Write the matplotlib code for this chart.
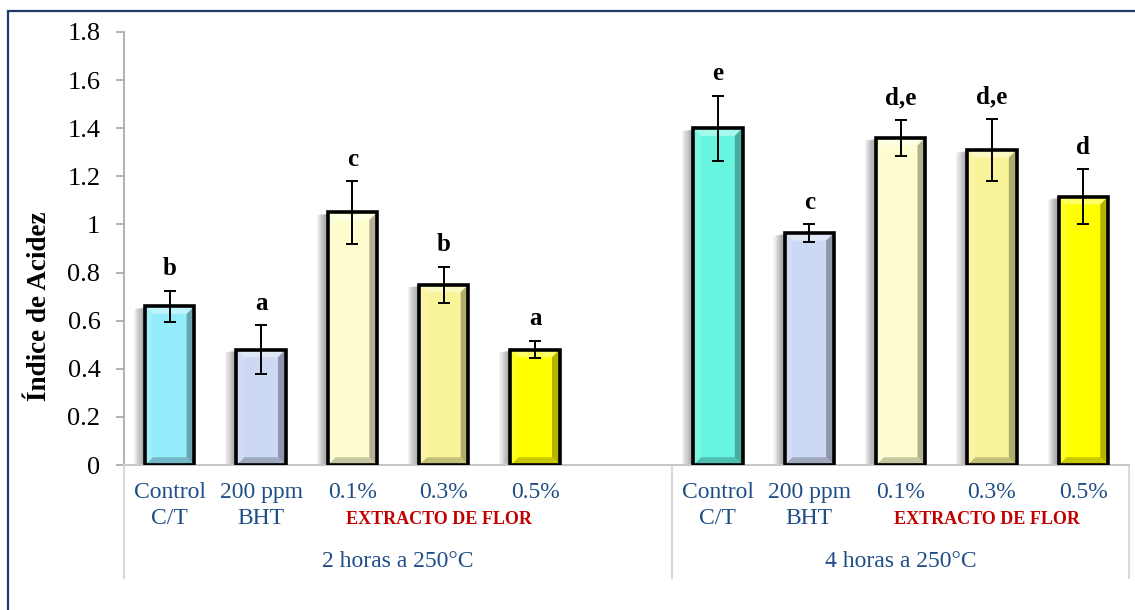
import numpy as np
import matplotlib
matplotlib.use('Agg')
import matplotlib.pyplot as plt
import matplotlib.patheffects as pe
from matplotlib.patches import Polygon, Rectangle
from matplotlib.colors import to_rgb

plt.rcParams['font.family'] = ['Liberation Serif', 'DejaVu Serif']

# data
groups = ['2 horas a 250°C', '4 horas a 250°C']
cat_line1 = ['Control', '200 ppm', '0.1%', '0.3%', '0.5%']
cat_line2 = ['C/T', 'BHT', '', '', '']
extract_label = 'EXTRACTO DE FLOR'

vals_2h = [0.66, 0.48, 1.05, 0.75, 0.48]
err_2h = [0.065, 0.10, 0.13, 0.075, 0.037]
letters_2h = ['b', 'a', 'c', 'b', 'a']

vals_4h = [1.40, 0.965, 1.36, 1.31, 1.115]
err_4h = [0.135, 0.037, 0.075, 0.13, 0.115]
letters_4h = ['e', 'c', 'd,e', 'd,e', 'd']

colors_2h = ['#94ECFB', '#CCD8F4', '#FDFDCF', '#F9F49A', '#FFFF00']
colors_4h = ['#68F5E0', '#CCD8F4', '#FDFDCF', '#F9F49A', '#FFFF00']

yticks = [0, 0.2, 0.4, 0.6, 0.8, 1.0, 1.2, 1.4, 1.6, 1.8]
ytick_labels = ['0', '0.2', '0.4', '0.6', '0.8', '1', '1.2', '1.4', '1.6', '1.8']

navy = '#1F4E86'
red = '#C00000'
axis_gray = '#A6A6A6'
sep_gray = '#D9D9D9'

W, H = 1135, 610
fig = plt.figure(figsize=(W / 100, H / 100), dpi=100)
ax = fig.add_axes([124 / W, 1 - 465 / H, (1129 - 124) / W, (465 - 32) / H])

# slot layout: 6 slots for first group (last empty), 5 for second
n_slots = 11
x_2h = np.arange(5) + 0.5
x_4h = np.arange(5) + 6.5
bar_w = 0.54

ax.set_xlim(0, n_slots)
ax.set_ylim(0, 1.8)


def blend(c, other, f):
    c = np.array(to_rgb(c))
    o = np.array(to_rgb(other))
    return tuple(c * (1 - f) + o * f)


def draw_bars(xs, vals, errs, cols, letters):
    shadow = [pe.SimplePatchShadow(offset=(-k * 0.8, -k * 0.2), shadow_rgbFace='k', alpha=0.045)
              for k in range(1, 11)]
    bars = ax.bar(xs, vals, width=bar_w, color=cols, edgecolor='none', zorder=2)
    for b in bars:
        b.set_path_effects(shadow + [pe.Normal()])
    # bevel look
    bx, by = 0.085, 0.032
    for x, v, c in zip(xs, vals, cols):
        l, r, t = x - bar_w / 2, x + bar_w / 2, v
        faces = [
            ([(l, t), (r, t), (r - bx, t - by), (l + bx, t - by)], blend(c, 'white', 0.4)),
            ([(r, t), (r, 0), (r - bx, by), (r - bx, t - by)], blend(c, 'black', 0.3)),
            ([(l, 0), (r, 0), (r - bx, by), (l + bx, by)], blend(c, 'black', 0.22)),
            ([(l, t), (l, 0), (l + bx, by), (l + bx, t - by)], blend(c, 'white', 0.12)),
        ]
        for pts, fc in faces:
            ax.add_patch(Polygon(pts, closed=True, facecolor=fc, edgecolor='none', zorder=2.5))
        ax.add_patch(Rectangle((l, 0), bar_w, v, fill=False, edgecolor='black', linewidth=2.6, zorder=2.6))
    ax.errorbar(xs, vals, yerr=errs, fmt='none', ecolor='black', elinewidth=1.4,
                capsize=4.5, capthick=1.4, zorder=3)
    for x, v, e, s in zip(xs, vals, errs, letters):
        ax.annotate(s, (x, v + e), xytext=(0, 11), textcoords='offset points',
                    ha='center', va='baseline', fontsize=18, fontweight='bold', zorder=4)


draw_bars(x_2h, vals_2h, err_2h, colors_2h, letters_2h)
draw_bars(x_4h, vals_4h, err_4h, colors_4h, letters_4h)

# axes styling
for s in ['top', 'right']:
    ax.spines[s].set_visible(False)
ax.spines['left'].set_color(axis_gray)
ax.spines['bottom'].set_color('#C8C8C8')
ax.spines['left'].set_linewidth(1.2)
ax.spines['bottom'].set_linewidth(1.5)
ax.set_yticks(yticks)
ax.set_yticklabels(ytick_labels, fontsize=19)
ax.tick_params(axis='y', direction='out', length=6, width=1.2, color=axis_gray, pad=11)
ax.set_xticks([])

# category labels below axis
xt = ax.get_xaxis_transform()
for xs in (x_2h, x_4h):
    for x, a, b in zip(xs, cat_line1, cat_line2):
        ax.text(x, -0.064, a, transform=xt, ha='center', va='center', fontsize=17, color=navy)
        if b:
            ax.text(x, -0.124, b, transform=xt, ha='center', va='center', fontsize=17, color=navy)
    ax.text(xs[3] - 0.05, -0.127, extract_label, transform=xt, ha='center', va='center',
            fontsize=13, fontweight='bold', color=red)

ax.text(3.0, -0.224, groups[0], transform=xt, ha='center', va='center', fontsize=17, color=navy)
ax.text(8.5, -0.224, groups[1], transform=xt, ha='center', va='center', fontsize=17, color=navy)

# group separators
for xs in (0, 6, 11):
    ax.plot([xs, xs], [0, -0.261], transform=xt, color=sep_gray, linewidth=1.5, clip_on=False, zorder=1)

fig.text(40 / W, 1 - 306 / H, 'Índice de Acidez', rotation=90, ha='center', va='center',
         fontsize=19.5, fontweight='bold')

# outer frame
fig.patches.append(Rectangle((8 / W, -0.1), 1.2, 1 - 11 / H + 0.1, transform=fig.transFigure,
                             fill=False, edgecolor='#1F3864', linewidth=1.6))

fig.savefig('out.png', dpi=100)
